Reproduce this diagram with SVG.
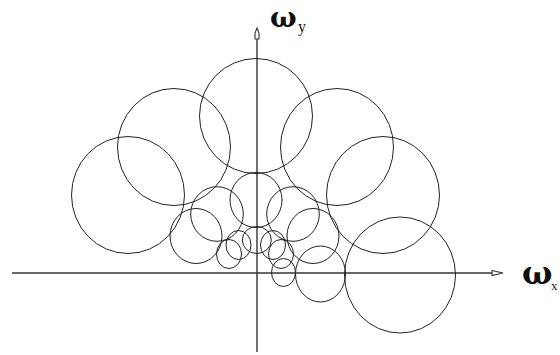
<svg xmlns="http://www.w3.org/2000/svg" width="560" height="355" viewBox="0 0 560 355">
<style>
.c{fill:none;stroke:#222;stroke-width:1}
.ax{stroke:#333;stroke-width:1.4;fill:none}
.ah{fill:#fff;stroke:#333;stroke-width:1.1}
.w{font-family:"DejaVu Serif","Liberation Serif",serif;font-weight:bold;fill:#111}
.s{font-family:"Liberation Serif","Times New Roman",serif;fill:#222}
</style>
<rect width="560" height="355" fill="#fff"/>
<g id="axes">
<line class="ax" x1="12" y1="273" x2="492" y2="273"/>
<line class="ax" x1="257" y1="39" x2="257" y2="352"/>
<path class="ah" d="M492,270.5 L503,273 L492,275.5 Z"/>
<path class="ah" d="M255,39 L255,33 L257,28 L259,33 L259,39 Z"/>
</g>
<g id="circles">
<ellipse class="c" cx="256" cy="116" rx="56.5" ry="57.5"/>
<ellipse class="c" cx="174" cy="147" rx="56.5" ry="58.5"/>
<ellipse class="c" cx="337" cy="147" rx="56.5" ry="58.5"/>
<ellipse class="c" cx="128" cy="195" rx="56.5" ry="58.5"/>
<ellipse class="c" cx="383" cy="195" rx="56.5" ry="58.5"/>
<ellipse class="c" cx="400" cy="275" rx="55.5" ry="58"/>
<ellipse class="c" cx="256" cy="200" rx="26" ry="27.5"/>
<ellipse class="c" cx="217" cy="214" rx="26.3" ry="27.3"/>
<ellipse class="c" cx="293" cy="214" rx="26.3" ry="27.3"/>
<ellipse class="c" cx="196" cy="236" rx="26" ry="27.5"/>
<ellipse class="c" cx="313" cy="236" rx="26" ry="27.5"/>
<ellipse class="c" cx="320.5" cy="274" rx="25" ry="28"/>
<ellipse class="c" cx="229" cy="254" rx="12.5" ry="14.5"/>
<ellipse class="c" cx="238.5" cy="245" rx="12.5" ry="14.5"/>
<ellipse class="c" cx="256.8" cy="240" rx="14.5" ry="13.5"/>
<ellipse class="c" cx="273" cy="245" rx="12.5" ry="14.5"/>
<ellipse class="c" cx="281" cy="254" rx="12.5" ry="14.5"/>
<ellipse class="c" cx="283.5" cy="272.5" rx="12" ry="14"/>
</g>
<g id="labels">
<text class="w" x="270" y="26.5" font-size="28">ω</text>
<text class="s" x="298" y="31.5" font-size="16">y</text>
<text class="w" x="522" y="284" font-size="32">ω</text>
<text class="s" x="551" y="290" font-size="13">x</text>
</g>
</svg>
